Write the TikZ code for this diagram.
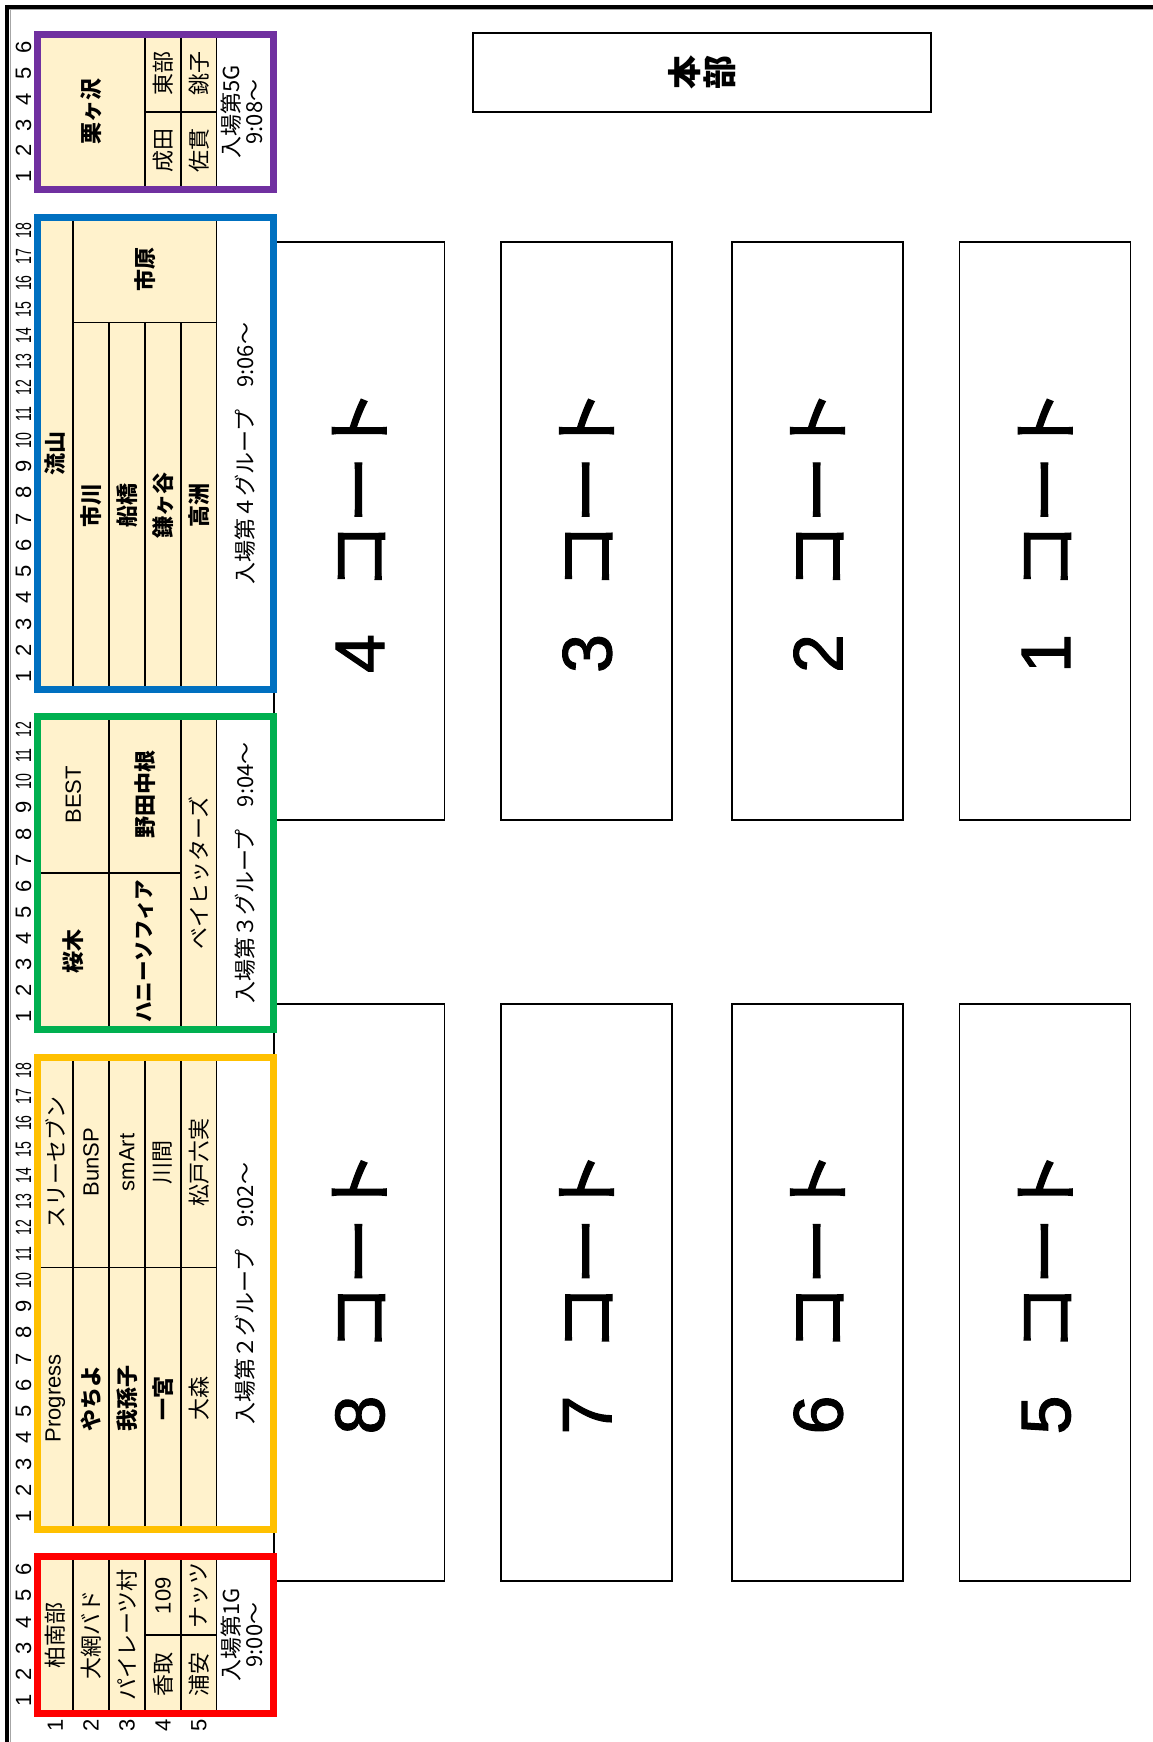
\documentclass[tikz,border=0pt]{standalone}
\usepackage{fontspec}
\usepackage{graphicx}
\newfontfamily\jp{Noto Sans CJK JP}
\newfontfamily\lat{Liberation Sans}
\newfontfamily\jpcourt{Noto Sans CJK JP}[FakeBold=2]
\newfontfamily\latcourt{Liberation Sans}[FakeBold=1.5]
\newcommand\myJ{\jp\fontsize{22}{22}\selectfont}
\newcommand\myJB{\jp\bfseries\fontsize{22}{22}\selectfont}
\newcommand\myL{\lat\fontsize{22}{22}\selectfont}
\newcommand\myN{\lat\fontsize{22}{22}\selectfont}
\newcommand\myBig{\jpcourt\fontsize{67}{67}\selectfont}
\definecolor{beige}{HTML}{FFF2CC}
\definecolor{gpurple}{HTML}{7030A0}
\definecolor{gblue}{HTML}{0070C0}
\definecolor{ggreen}{HTML}{00B050}
\definecolor{gyellow}{HTML}{FFC000}
\definecolor{gred}{HTML}{FF0000}
\newcommand\cellat[7]{\node[#6, minimum width={(#4)-(#2)}, minimum height={(#5)-(#3)}] (#1) at ({((#2)+(#4))/2},{((#3)+(#5))/2}) {\rotatebox{90}{#7}};}
\newcommand\twol[2]{\begin{tabular}{@{}c@{}}#1\\#2\end{tabular}}
\newcommand\numtxt[1]{\ifnum#1>9 \scalebox{0.64}[1]{#1}\else #1\fi}
\begin{document}
\begin{tikzpicture}[x=1pt,y=-1pt,
  cell/.style={draw=black, line width=1.4pt, fill=beige, inner sep=0pt, outer sep=0pt, font=\myJ},
  cellB/.style={cell, font=\myJB},
  cellL/.style={cell, font=\myL},
  wcell/.style={fill=white, inner sep=0pt, outer sep=0pt, font=\myJ},
  grp/.style={draw, line width=7pt, inner sep=0pt, outer sep=0pt},
  court/.style={draw=black, line width=1.5pt, inner sep=0pt, outer sep=0pt, font=\myBig},
  num/.style={inner sep=0pt, font=\myN}]
\useasboundingbox (0,0) rectangle (1153,1742);
\fill[white] (0,0) rectangle (1153,1742);
% frame
\draw[black!35, line width=1pt] (9,10) -- (1153,10);
\draw[black!35, line width=1pt] (10,9) -- (10,1742);
\draw[line width=4pt] (5,7) -- (1153,7);
\draw[line width=4pt] (7,5) -- (7,1742);
% HQ
\node[draw, line width=1.5pt, minimum width=458, minimum height=79, inner sep=0pt, font=\jp\bfseries\fontsize{34}{34}\selectfont] (hq) at (702,72.5) {\rotatebox{90}{本}\hspace{3pt}\rotatebox{90}{部}};
% courts
\foreach \n/\cx/\cy/\w/\h in {4/359.2/531/170.5/578, 3/586.5/531/171/578, 2/817.5/531/171/578, 1/1045.2/531/171/578,
  8/359.2/1292.5/170.5/577, 7/586.5/1292.5/171/577, 6/817.5/1292.5/171/577, 5/1045.2/1292.5/171/577}
  \node[court, minimum width=\w, minimum height=\h] (court\n) at (\cx,\cy) {\rotatebox{90}{{\latcourt\fontsize{70}{70}\selectfont\n}\hspace{44pt}コート}};
% ---- group 5 (purple)
\cellat{kuri}{37.5}{34.5}{145}{189.5}{cellB}{栗ヶ沢}
\cellat{tobu}{145}{34.5}{181}{112}{cell}{東部}
\cellat{narita}{145}{112}{181}{189.5}{cell}{成田}
\cellat{choshi}{181}{34.5}{217}{112}{cell}{銚子}
\cellat{sanuki}{181}{112}{217}{189.5}{cell}{佐貫}
\cellat{w5}{217}{34.5}{273.5}{189.5}{wcell}{\twol{入場第5G}{9:08～}}
\node[grp, draw=gpurple, minimum width=236, minimum height=155] (g5) at (155.5,112) {};
% ---- group 4 (blue)
\cellat{nagareyama}{37.5}{217.5}{73}{689.5}{cellB}{流山}
\cellat{ichihara}{73}{217.5}{217}{322.4}{cellB}{市原}
\cellat{ichikawa}{73}{322.4}{109}{689.5}{cellB}{市川}
\cellat{funabashi}{109}{322.4}{145}{689.5}{cellB}{船橋}
\cellat{kamagaya}{145}{322.4}{181}{689.5}{cellB}{鎌ヶ谷}
\cellat{takasu}{181}{322.4}{217}{689.5}{cellB}{高洲}
\cellat{w4}{217}{217.5}{273.5}{689.5}{wcell}{入場第４グループ　9:06～}
\node[grp, draw=gblue, minimum width=236, minimum height=472] (g4) at (155.5,453.5) {};
% ---- group 3 (green)
\cellat{best}{37.5}{716.5}{109}{873}{cellL}{BEST}
\cellat{sakuragi}{37.5}{873}{109}{1029.5}{cellB}{桜木}
\cellat{nodanakane}{109}{716.5}{181}{873}{cellB}{野田中根}
\cellat{honey}{109}{873}{181}{1029.5}{cellB}{\fontsize{20.5}{20.5}\selectfont ハニーソフィア}
\cellat{bay}{181}{716.5}{217}{1029.5}{cell}{ベイヒッターズ}
\cellat{w3}{217}{716.5}{273.5}{1029.5}{wcell}{入場第３グループ　9:04～}
\node[grp, draw=ggreen, minimum width=236, minimum height=313] (g3) at (155.5,873) {};
% ---- group 2 (yellow)
\cellat{three}{37.5}{1057.5}{73}{1267.3}{cell}{スリーセブン}
\cellat{bunsp}{73}{1057.5}{109}{1267.3}{cellL}{BunSP}
\cellat{smart}{109}{1057.5}{145}{1267.3}{cellL}{smArt}
\cellat{kawama}{145}{1057.5}{181}{1267.3}{cell}{川間}
\cellat{matsudo}{181}{1057.5}{217}{1267.3}{cell}{松戸六実}
\cellat{progress}{37.5}{1267.3}{73}{1529.5}{cellL}{Progress}
\cellat{yachiyo}{73}{1267.3}{109}{1529.5}{cellB}{やちよ}
\cellat{abiko}{109}{1267.3}{145}{1529.5}{cellB}{我孫子}
\cellat{ichinomiya}{145}{1267.3}{181}{1529.5}{cellB}{一宮}
\cellat{omori}{181}{1267.3}{217}{1529.5}{cell}{大森}
\cellat{w2}{217}{1057.5}{273.5}{1529.5}{wcell}{入場第２グループ　9:02～}
\node[grp, draw=gyellow, minimum width=236, minimum height=472] (g2) at (155.5,1293.5) {};
% ---- group 1 (red)
\cellat{shonan}{37.5}{1556.5}{73}{1713.5}{cell}{柏南部}
\cellat{oami}{73}{1556.5}{109}{1713.5}{cell}{大網バド}
\cellat{pirates}{109}{1556.5}{145}{1713.5}{cell}{パイレーツ村}
\cellat{t109}{145}{1556.5}{181}{1635}{cellL}{109}
\cellat{katori}{145}{1635}{181}{1713.5}{cell}{香取}
\cellat{nuts}{181}{1556.5}{217}{1635}{cell}{ナッツ}
\cellat{urayasu}{181}{1635}{217}{1713.5}{cell}{浦安}
\cellat{w1}{217}{1556.5}{273.5}{1713.5}{wcell}{\twol{入場第1G}{9:00～}}
\node[grp, draw=gred, minimum width=236, minimum height=157] (g1) at (155.5,1635) {};
% ---- row numbers
\foreach \g/\nr/\bot/\p in {5/6/189.5/25.83, 4/18/689.5/26.22, 3/12/1029.5/26.08, 2/18/1529.5/26.22, 1/6/1713.5/26.17}
  \foreach \k in {1,...,\nr}
    \node[num] (r\g-\k) at (23.5,{\bot-(\k-0.5)*\p}) {\rotatebox{90}{\numtxt{\k}}};
% ---- column numbers below group 1
\foreach \k/\cx in {1/55.25, 2/91, 3/127, 4/163, 5/199}
  \node[num] (col\k) at (\cx,1725) {\rotatebox{90}{\k}};
\end{tikzpicture}
\end{document}
